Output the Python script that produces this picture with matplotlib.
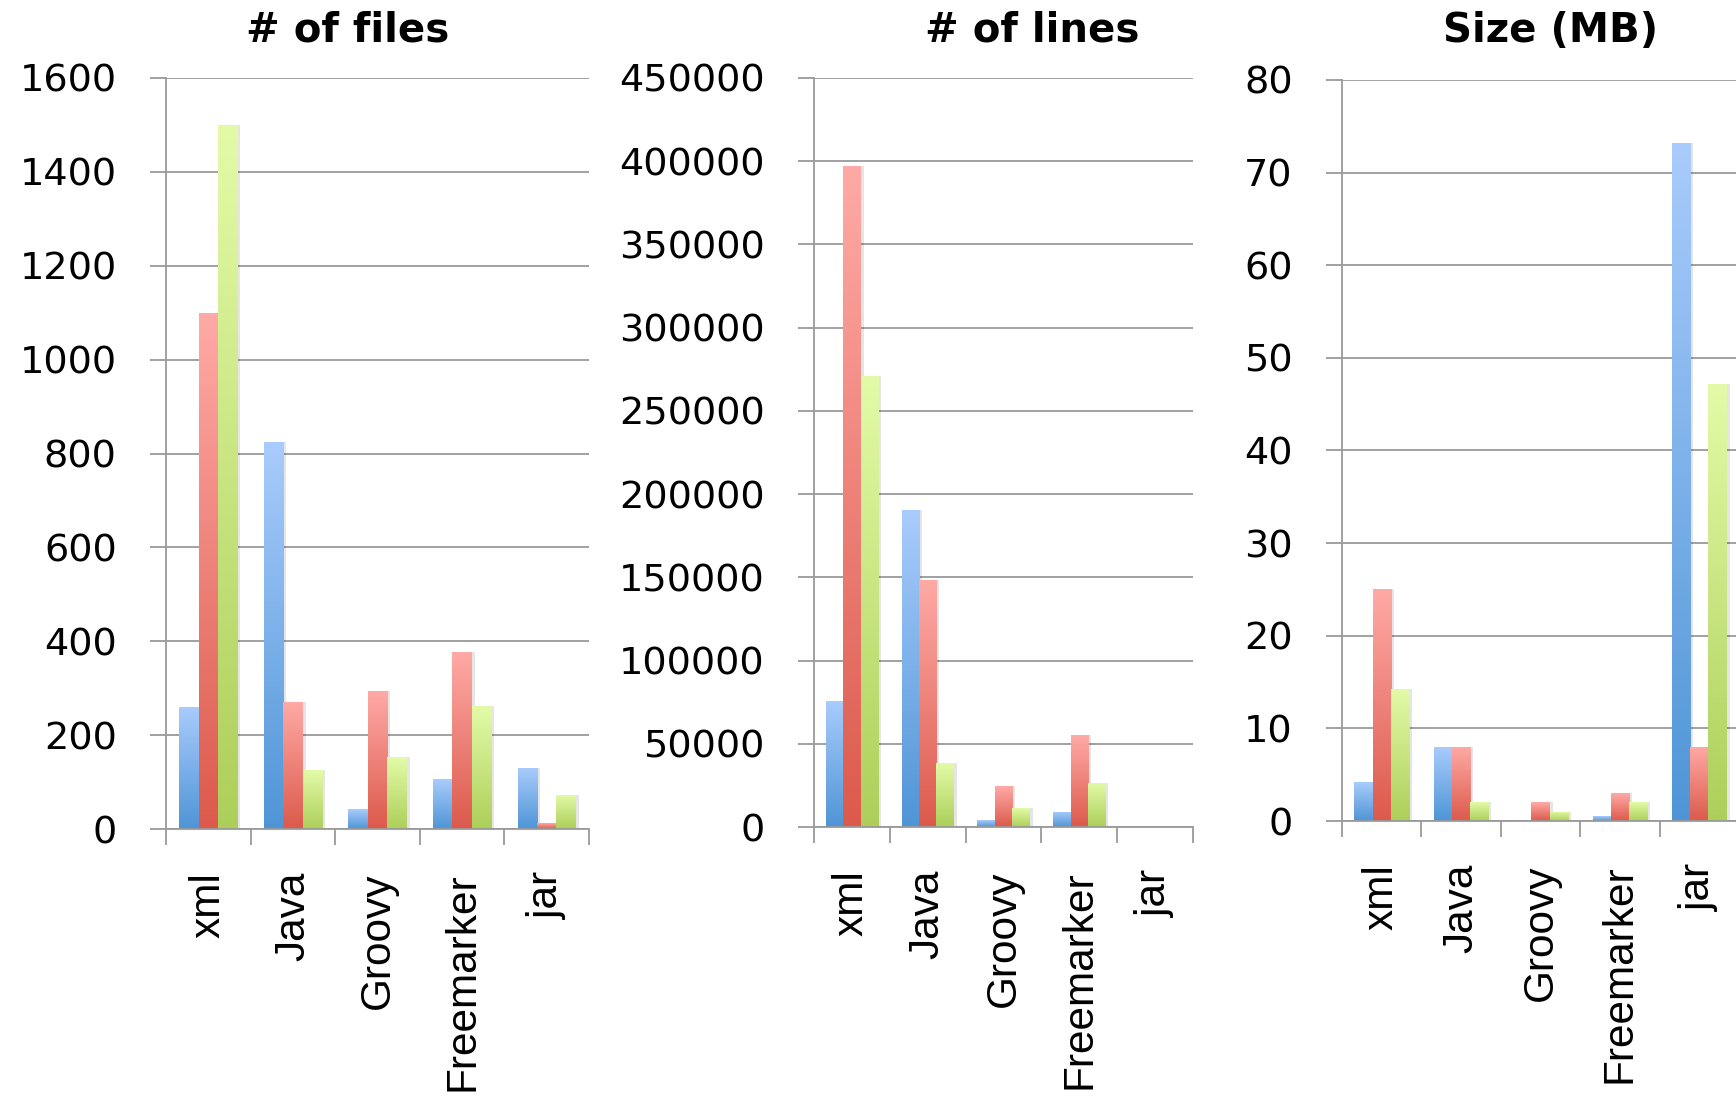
import numpy as np
import matplotlib
matplotlib.use("Agg")
import matplotlib.pyplot as plt
from matplotlib.colors import LinearSegmentedColormap
import matplotlib.transforms as mtransforms

categories = ["xml", "Java", "Groovy", "Freemarker", "jar"]

files_blue = [260, 824, 42, 106, 130]
files_red = [1100, 271, 293, 378, 12]
files_green = [1500, 125, 153, 262, 73]

lines_blue = [75900, 190400, 4000, 9300, 0]
lines_red = [397400, 148500, 24600, 55200, 0]
lines_green = [270900, 38600, 11300, 26600, 0]

size_blue = [4.2, 8, 0.1, 0.5, 73.2]
size_red = [25.1, 8, 2, 3, 8]
size_green = [14.3, 2, 1, 2, 47.2]

titles = ["# of files", "# of lines", "Size (MB)"]
yticks_list = [np.arange(0, 1601, 200), np.arange(0, 450001, 50000), np.arange(0, 81, 10)]

W, H = 1736, 1106
fig = plt.figure(figsize=(W / 100, H / 100), dpi=100)

# axes placement in pixels: left, right, top, bottom
boxes = [(166, 589, 78, 829), (814, 1193, 78, 827), (1342, 1739, 80, 821)]
title_x = [348, 1032, 1551]

grads = [
    ("#4F95D6", "#A9CCFC"),
    ("#DC5A4C", "#FFAAA6"),
    ("#ADCF5A", "#E3FBA8"),
]
cmaps = [LinearSegmentedColormap.from_list("g%d" % i, [b, t]) for i, (b, t) in enumerate(grads)]
grad_img = np.linspace(0, 1, 256).reshape(-1, 1)

gray = "#9a9a9a"
data = [
    (files_blue, files_red, files_green),
    (lines_blue, lines_red, lines_green),
    (size_blue, size_red, size_green),
]

for k in range(3):
    l, r, t, b = boxes[k]
    ax = fig.add_axes([l / W, 1 - b / H, (r - l) / W, (b - t) / H])
    x = np.arange(len(categories))
    width = 0.23
    yt = yticks_list[k]
    for s, vals in enumerate(data[k]):
        xs = x + (s - 1) * width
        # soft shadow
        sh = mtransforms.offset_copy(ax.transData, fig=fig, x=3, y=0, units="dots")
        ax.bar(xs, vals, width, color="#000000", alpha=0.10, transform=sh, zorder=2, linewidth=0)
        bars = ax.bar(xs, vals, width, color="none", linewidth=0, zorder=3)
        for bar in bars:
            h = bar.get_height()
            if h <= 0:
                continue
            x0 = bar.get_x()
            im = ax.imshow(grad_img, cmap=cmaps[s], origin="lower", aspect="auto",
                           extent=[x0, x0 + bar.get_width(), 0, h], zorder=3,
                           interpolation="bicubic")
            im.set_clip_path(bar)
    ax.set_xlim(-0.5, len(categories) - 0.5)
    ax.set_ylim(0, yt[-1])
    ax.set_yticks(yt)
    ax.set_yticklabels([str(v) for v in yt], fontsize=27.5, family="DejaVu Sans")
    ax.yaxis.grid(True, color=gray, linewidth=1.3, zorder=1)
    ax.set_axisbelow(True)
    ax.tick_params(axis="y", length=11.5, width=1.3, color=gray, pad=24)
    ax.set_xticks(x)
    ax.set_xticklabels(categories, rotation=90, fontsize=30.5, family="Liberation Sans",
                       va="top", ha="center")
    ax.set_xticks(np.arange(-0.5, len(categories)), minor=True)
    ax.tick_params(axis="x", which="major", length=0, pad=31)
    ax.tick_params(axis="x", which="minor", length=11.5, width=1.3, color=gray)
    for sp in ["top", "right"]:
        ax.spines[sp].set_visible(False)
    for sp in ["left", "bottom"]:
        ax.spines[sp].set_color(gray)
        ax.spines[sp].set_linewidth(1.3)
        ax.spines[sp].set_zorder(4)
    fig.text(title_x[k] / W, 1 - 31 / H, titles[k], fontsize=29, fontweight="bold",
             family="DejaVu Sans", ha="center", va="center")

fig.savefig("out.png", dpi=100, facecolor="white")
